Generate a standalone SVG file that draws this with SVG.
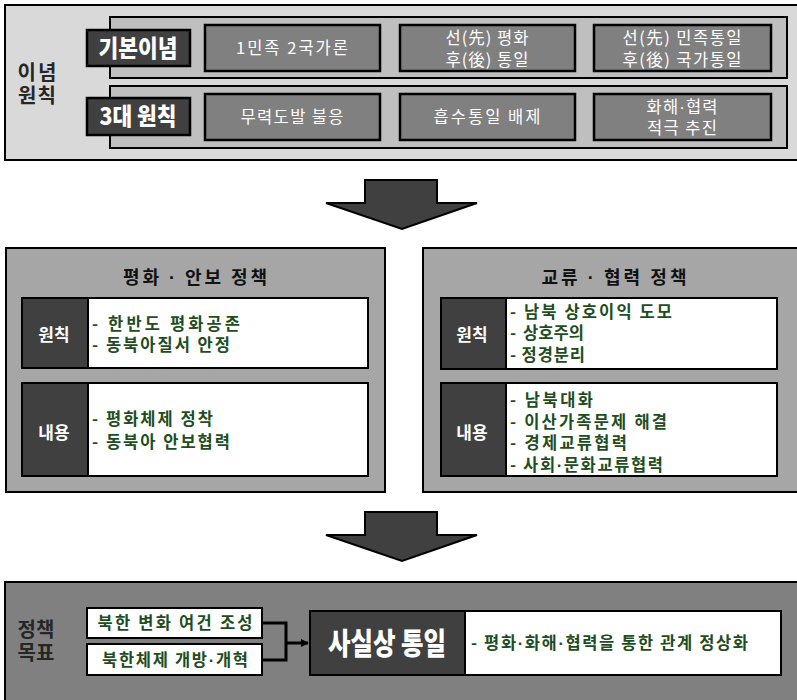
<svg xmlns="http://www.w3.org/2000/svg" width="797" height="700" viewBox="0 0 797 700">
<defs>
<style>
.k{font-family:"Noto Sans CJK KR","Noto Sans",sans-serif}
.d{font-family:"Liberation Sans","Noto Sans",sans-serif}
.b{stroke:#000;stroke-width:2}
.tab{fill:#404040;stroke:#000;stroke-width:2.5}
.tabt{fill:#fff;font-size:24px;font-weight:900;text-anchor:middle}
.cell{fill:#808080;stroke:#000;stroke-width:2.5}
.cellt{fill:#fff;font-size:16.5px;text-anchor:middle}
.side{fill:#262626;font-size:20px;font-weight:700;text-anchor:middle}
.ttl{fill:#111;font-size:18px;font-weight:700;text-anchor:middle}
.lab{fill:#404040;stroke:#000;stroke-width:2}
.labt{fill:#fff;font-size:17px;font-weight:700;text-anchor:middle}
.wb{fill:#fff;stroke:#000;stroke-width:2}
.g{fill:#1e4d1e;font-size:16.5px;font-weight:700}
.arrow{fill:#404040;stroke:#000;stroke-width:2}
</style>
<marker id="ah" markerWidth="8" markerHeight="8" refX="7" refY="4" orient="auto" markerUnits="userSpaceOnUse">
<path d="M0,0 L8,4 L0,8 z" fill="#000"/>
</marker>
</defs>
<rect width="797" height="700" fill="#fff"/>

<g id="principles">
<rect x="5" y="5" width="795" height="155" fill="#d9d9d9" class="b"/>
<text class="k side" x="37" y="80" textLength="39">이념</text>
<text class="k side" x="37" y="103" textLength="38">원칙</text>
<rect x="110" y="17" width="677" height="61" fill="#bfbfbf" class="b"/>
<rect x="110" y="86" width="677" height="62" fill="#bfbfbf" class="b"/>
</g>

<g id="tab-basic">
<rect class="tab" x="87" y="30" width="103" height="36"/>
<text class="k tabt" x="138" y="57" textLength="79" lengthAdjust="spacingAndGlyphs">기본이념</text>
</g>
<g id="cell-1">
<rect class="cell" x="205" y="25" width="175" height="46"/>
<text class="k cellt" x="292" y="54" textLength="112">1민족 2국가론</text>
</g>
<g id="cell-2">
<rect class="cell" x="400" y="25" width="175" height="46"/>
<text class="k cellt" x="487" y="44" textLength="83">선(先) 평화</text>
<text class="k cellt" x="487" y="66" textLength="83">후(後) 통일</text>
</g>
<g id="cell-3">
<rect class="cell" x="594" y="25" width="177" height="46"/>
<text class="k cellt" x="682" y="44" textLength="119">선(先) 민족통일</text>
<text class="k cellt" x="682" y="66" textLength="119">후(後) 국가통일</text>
</g>

<g id="tab-3">
<rect class="tab" x="87" y="98" width="103" height="37"/>
<text class="k tabt" x="138" y="125" textLength="77" lengthAdjust="spacingAndGlyphs">3대 원칙</text>
</g>
<g id="cell-4">
<rect class="cell" x="205" y="94" width="175" height="46"/>
<text class="k cellt" x="292" y="123" textLength="103">무력도발 불응</text>
</g>
<g id="cell-5">
<rect class="cell" x="400" y="94" width="175" height="46"/>
<text class="k cellt" x="487" y="123" textLength="107">흡수통일 배제</text>
</g>
<g id="cell-6">
<rect class="cell" x="594" y="94" width="177" height="46"/>
<text class="k cellt" x="682" y="113" textLength="71">화해<tspan class="d">·</tspan>협력</text>
<text class="k cellt" x="682" y="134" textLength="70">적극 추진</text>
</g>

<g id="arrows">
<path class="arrow" d="M365,180 L437,180 L437,203 L477,203 L402,229 L326,203 L365,203 Z"/>
<path class="arrow" d="M365,512 L437,512 L437,535 L477,535 L402,561 L326,535 L365,535 Z"/>
</g>

<g id="peace-security">
<rect x="6" y="248" width="379" height="244" fill="#a6a6a6" class="b"/>
<text class="k ttl" x="195" y="284" textLength="144">평화 <tspan class="d">·</tspan> 안보 정책</text>
<rect class="wb" x="22" y="298" width="346" height="70"/>
<rect class="lab" x="22" y="298" width="66" height="70"/>
<text class="k labt" x="54" y="341">원칙</text>
<text class="k g" x="92" y="330" textLength="148">- 한반도 평화공존</text>
<text class="k g" x="92" y="351" textLength="138">- 동북아질서 안정</text>
<rect class="wb" x="22" y="383" width="346" height="93"/>
<rect class="lab" x="22" y="383" width="66" height="93"/>
<text class="k labt" x="54" y="439">내용</text>
<text class="k g" x="92" y="425" textLength="121">- 평화체제 정착</text>
<text class="k g" x="92" y="448" textLength="138">- 동북아 안보협력</text>
</g>

<g id="exchange-cooperation">
<rect x="423" y="248" width="377" height="244" fill="#a6a6a6" class="b"/>
<text class="k ttl" x="614" y="284" textLength="145">교류 <tspan class="d">·</tspan> 협력 정책</text>
<rect class="wb" x="441" y="298" width="336" height="71"/>
<rect class="lab" x="441" y="298" width="65" height="71"/>
<text class="k labt" x="472" y="341">원칙</text>
<text class="k g" x="510" y="318" textLength="162">- 남북 상호이익 도모</text>
<text class="k g" x="510" y="339">-<tspan dx="7">상호주의</tspan></text>
<text class="k g" x="510" y="361" textLength="75">- 정경분리</text>
<rect class="wb" x="441" y="383" width="336" height="93"/>
<rect class="lab" x="441" y="383" width="65" height="93"/>
<text class="k labt" x="472" y="439">내용</text>
<text class="k g" x="510" y="406" textLength="83">- 남북대화</text>
<text class="k g" x="510" y="428" textLength="157">- 이산가족문제 해결</text>
<text class="k g" x="510" y="449" textLength="117">- 경제교류협력</text>
<text class="k g" x="510" y="471" textLength="153">- 사회<tspan class="d">·</tspan>문화교류협력</text>
</g>

<g id="goal">
<rect x="5" y="582" width="795" height="125" fill="#808080" class="b"/>
<text class="k side" x="36" y="637" textLength="37">정책</text>
<text class="k side" x="36" y="660" textLength="37">목표</text>
</g>
<g id="cond-1">
<rect class="wb" x="87" y="608" width="175" height="30"/>
<text class="k g" x="175" y="629" text-anchor="middle" textLength="155">북한 변화 여건 조성</text>
</g>
<g id="cond-2">
<rect class="wb" x="87" y="644" width="175" height="31"/>
<text class="k g" x="175" y="666" text-anchor="middle" textLength="146">북한체제 개방<tspan class="d">·</tspan>개혁</text>
</g>
<g id="connectors">
<path d="M262,623 H286 V660 H262" fill="none" stroke="#000" stroke-width="3"/>
<path d="M286,643 H308" fill="none" stroke="#000" stroke-width="3" marker-end="url(#ah)"/>
</g>
<g id="de-facto">
<rect class="wb" x="465" y="611" width="316" height="64"/>
<rect class="lab" x="310" y="611" width="155" height="64"/>
<text class="k" x="387" y="654" fill="#fff" font-size="30" font-weight="900" text-anchor="middle" textLength="118" lengthAdjust="spacingAndGlyphs">사실상 통일</text>
<text class="k g" x="471" y="649" textLength="277">- 평화<tspan class="d">·</tspan>화해<tspan class="d">·</tspan>협력을 통한 관계 정상화</text>
</g>
</svg>
